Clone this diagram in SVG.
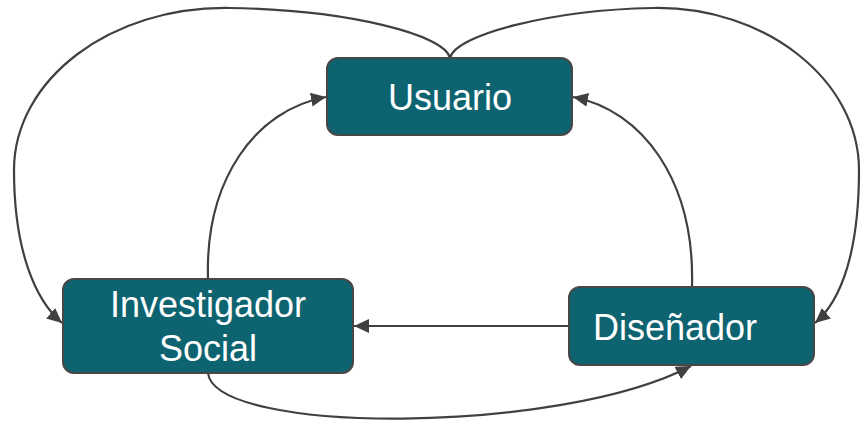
<svg xmlns="http://www.w3.org/2000/svg" width="861" height="426" viewBox="0 0 861 426">
<style>
.box{fill:#0E6370;stroke:#474747;stroke-width:2}
.lbl{fill:#ffffff;font-family:"Liberation Sans",Arial,sans-serif;font-size:36px}
.edge{fill:none;stroke:#404040;stroke-width:2.2}
</style>
<defs>
<marker id="ah" markerUnits="userSpaceOnUse" markerWidth="16" markerHeight="14" refX="15" refY="7" orient="auto">
<path d="M0,0 L15,7 L0,14 Z" fill="#404040"/>
</marker>
</defs>
<g id="connectors">
<path class="edge" d="M450,58 C445,35 350,10 230,8 C110,6 14,80 14,170 C14,250 35,300 62,323" marker-end="url(#ah)"/>
<path class="edge" d="M450,58 C455,35 550,10 653,8 C765,6 859,80 859,170 C859,250 842,300 815,323" marker-end="url(#ah)"/>
<path class="edge" d="M208,279 C205,180 255,110 326,97" marker-end="url(#ah)"/>
<path class="edge" d="M692,287 C695,180 642,110 573,97" marker-end="url(#ah)"/>
<path class="edge" d="M569,326 L354,326" marker-end="url(#ah)"/>
<path class="edge" d="M208,373 C215,435 560,435 691,366" marker-end="url(#ah)"/>
</g>
<g id="usuario">
<rect class="box" x="327" y="58" width="245" height="77" rx="11"/>
<text class="lbl" x="450" y="110" text-anchor="middle">Usuario</text>
</g>
<g id="investigador">
<rect class="box" x="63" y="279" width="290" height="94" rx="11"/>
<text class="lbl" x="208" y="317" text-anchor="middle">Investigador</text>
<text class="lbl" x="208" y="361" text-anchor="middle">Social</text>
</g>
<g id="disenador">
<rect class="box" x="569" y="287" width="245" height="78" rx="11"/>
<text class="lbl" x="593" y="340">Diseñador</text>
</g>
</svg>
